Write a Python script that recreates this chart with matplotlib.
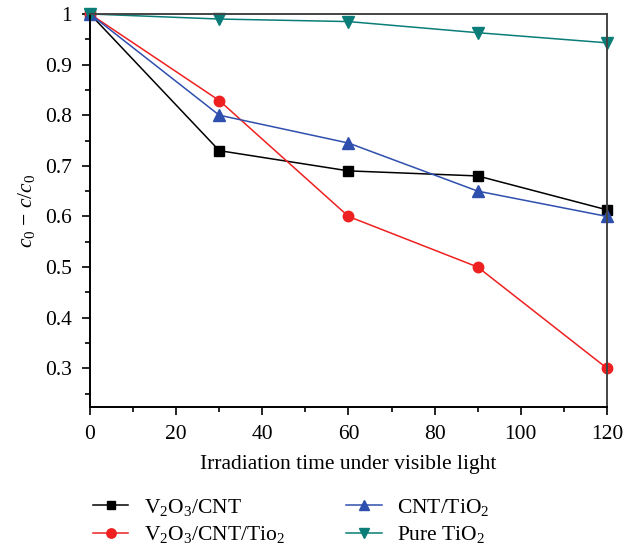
import matplotlib
matplotlib.use("Agg")
import matplotlib.pyplot as plt
from matplotlib.ticker import MultipleLocator

plt.rcParams['font.family'] = ['Liberation Serif', 'DejaVu Serif']
plt.rcParams['mathtext.fontset'] = 'custom'
plt.rcParams['mathtext.rm'] = 'Liberation Serif'
plt.rcParams['mathtext.it'] = 'Liberation Serif:italic'

# data
time = [0, 30, 60, 90, 120]
v2o3_cnt = [1.0, 0.730, 0.690, 0.680, 0.613]
v2o3_cnt_tio2 = [1.0, 0.829, 0.600, 0.500, 0.300]
cnt_tio2 = [1.0, 0.800, 0.745, 0.650, 0.600]
pure_tio2 = [1.0, 0.990, 0.985, 0.963, 0.943]

labels = [r"V$_2$O$_3$/CNT", r"V$_2$O$_3$/CNT/Tio$_2$", r"CNT/TiO$_2$", r"Pure TiO$_2$"]

fs = 15.5
fig = plt.figure(figsize=(6.32, 5.46), dpi=100)
ax = fig.add_axes([0.1424, 0.2546, 0.818, 0.7198])

ax.plot(time, v2o3_cnt, color='black', marker='s', ms=6.5, lw=1.1, label=labels[0])
ax.plot(time, v2o3_cnt_tio2, color='#ee2020', marker='o', ms=7.5, lw=1.1, label=labels[1])
ax.plot(time, cnt_tio2, color='#2f4fae', marker='^', ms=8, lw=1.1, label=labels[2])
ax.plot(time, pure_tio2, color='#0a7d78', marker='v', ms=8, lw=1.1, label=labels[3])

ax.set_xlim(0, 120)
ax.set_ylim(0.2235, 1.0)
ax.xaxis.set_major_locator(MultipleLocator(20))
ax.xaxis.set_minor_locator(MultipleLocator(10))
ax.set_yticks([0.3, 0.4, 0.5, 0.6, 0.7, 0.8, 0.9, 1.0])
ax.set_yticklabels(['0.3', '0.4', '0.5', '0.6', '0.7', '0.8', '0.9', '1'])
ax.yaxis.set_minor_locator(MultipleLocator(0.05))
ax.tick_params(which='both', direction='out', width=1.2, labelsize=fs, pad=7)
ax.tick_params(which='major', length=6)
ax.tick_params(which='minor', length=3.5)
for side in ['left', 'bottom']:
    ax.spines[side].set_linewidth(1.4)
for side in ['top', 'right']:
    ax.spines[side].set_color('#444444')
    ax.spines[side].set_linewidth(1.4)
for ln in ax.lines:
    ln.set_clip_on(False)

ax.set_xlabel("Irradiation time under visible light", fontsize=fs, labelpad=8)
ax.set_ylabel(r"$c_0$ $-$ $c/c_0$", fontsize=fs, labelpad=6)

handles, labs = ax.get_legend_handles_labels()
fig.legend(handles, labs, loc='upper left', bbox_to_anchor=(0.147, 0.09), ncol=2,
           frameon=False, fontsize=fs, handlelength=1.65, columnspacing=2.85,
           labelspacing=0.3, handletextpad=0.72, borderpad=0, borderaxespad=0,
           markerscale=0.9)

fig.savefig("out.png", dpi=100)
